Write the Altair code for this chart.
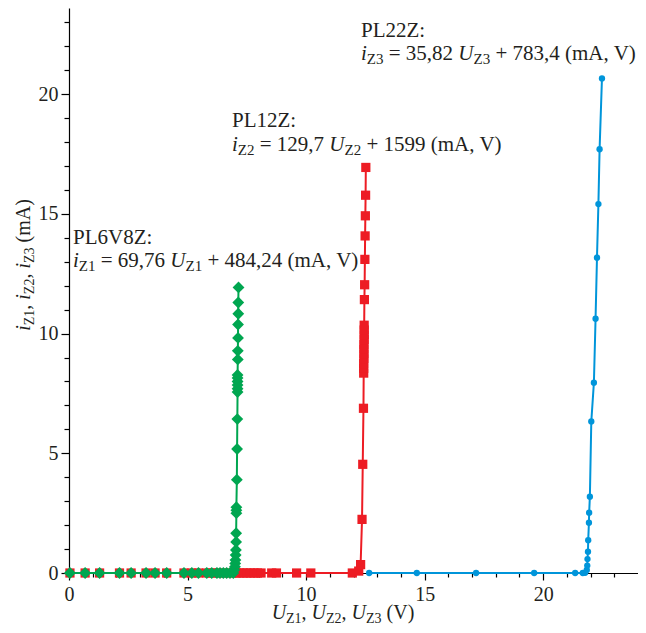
import altair as alt
import pandas as pd

# ---------------- data ----------------
# PL6V8Z  (green diamonds)
z1_u = [0.04, 0.68, 1.29, 2.13, 2.62, 3.25, 3.63, 4.12, 4.85, 5.18, 5.46, 5.81, 6.02, 6.24, 6.37, 6.51, 6.65, 6.79, 6.93,
        6.97, 7.00, 7.01, 7.02, 7.03, 7.04, 7.05, 7.05, 7.06, 7.06, 7.06, 7.08, 7.09, 7.10, 7.11, 7.11, 7.11, 7.11, 7.11,
        7.11, 7.12, 7.12, 7.13, 7.13, 7.14, 7.14, 7.15]
z1_i = [0, 0, 0, 0, 0, 0, 0, 0, 0, 0, 0, 0, 0, 0, 0, 0, 0, 0, 0,
        0.13, 0.26, 0.40, 0.54, 0.75, 0.96, 1.30, 1.66, 2.50, 2.62, 2.75, 3.90, 5.18, 6.43, 7.56, 7.70, 7.85, 8.00, 8.15,
        8.27, 8.92, 9.28, 9.82, 10.38, 10.83, 11.30, 11.93]

# PL12Z  (red squares)
z2_u = [0.04, 0.68, 1.29, 2.13, 2.62, 3.25, 3.63, 4.12, 4.85, 5.18, 5.46, 5.81, 6.02, 6.24, 6.51, 6.79, 7.05, 7.20,
        7.35, 7.50, 7.65, 7.80, 7.95, 8.10, 8.55, 8.75, 9.60, 10.20, 11.95,
        12.22, 12.30, 12.36, 12.39, 12.42, 12.43, 12.43, 12.43, 12.44, 12.44, 12.44, 12.44, 12.45, 12.45, 12.45, 12.45,
        12.46, 12.47, 12.48, 12.49, 12.50, 12.51, 12.52]
z2_i = [0, 0, 0, 0, 0, 0, 0, 0, 0, 0, 0, 0, 0, 0, 0, 0, 0, 0,
        0, 0, 0, 0, 0, 0, 0, 0, 0, 0, 0,
        0.08, 0.35, 2.24, 4.54, 6.88, 8.35, 8.55, 8.75, 8.95, 9.15, 9.35, 9.55, 9.75, 9.95, 10.15, 10.35,
        11.42, 12.04, 13.10, 14.08, 14.92, 15.78, 16.94]

# PL22Z  (blue circles)
z3_u = [12.66, 14.67, 17.17, 19.62, 21.35, 21.67, 21.77, 21.84, 21.86, 21.87, 21.89, 21.90, 21.93, 21.94, 21.97,
        22.03, 22.14, 22.21, 22.27, 22.33, 22.38, 22.48]
z3_i = [0, 0, 0, 0, 0, 0, 0.01, 0.13, 0.31, 0.58, 0.89, 1.37, 2.10, 2.52, 3.19,
        6.33, 7.95, 10.62, 13.17, 15.41, 17.70, 20.66]

x_domain = [0, 24]
y_domain = [0, 23.6]
x_ticks = list(range(0, 24))
y_ticks = list(range(0, 24))

# ---------------- style ----------------
W, H = 569, 565
FONT = "Liberation Serif"
FS = 20
SUBFS = 14
AFS = 21      # annotation font size
ASUBFS = 15
INK = "#231f20"
GREEN = "#00a650"
RED = "#ed1c24"
BLUE = "#0095da"

xscale = alt.Scale(domain=x_domain, nice=False, zero=False)
yscale = alt.Scale(domain=y_domain, nice=False, zero=False)

major5 = "datum.value % 5 === 0"
common_axis = dict(
    title=None, grid=False, labelExpr=f"{major5} ? datum.label : ''",
    labelFont=FONT, labelFontSize=FS, labelColor=INK, labelOverlap=False,
    domainColor="black", tickColor="black", domainWidth=1.2, tickWidth=1.2, labelFlush=False,
)
xaxis = alt.Axis(values=x_ticks, tickSize={"condition": {"test": major5, "value": 7}, "value": 4},
                 labelPadding=4, **common_axis)
yaxis = alt.Axis(values=y_ticks, tickSize={"condition": {"test": major5, "value": 8}, "value": 5},
                 labelPadding=3, **common_axis)


def series(u, i, color, shape, size):
    df = pd.DataFrame({"U": u, "I": i, "k": list(range(len(u)))})
    base = alt.Chart(df).encode(
        x=alt.X("U:Q", scale=xscale, axis=xaxis),
        y=alt.Y("I:Q", scale=yscale, axis=yaxis),
        order=alt.Order("k:Q"),
    )
    return [
        base.mark_line(color=color, strokeWidth=2),
        base.mark_point(shape=shape, size=size, filled=True, color=color, opacity=1),
    ]


# ---------------- rich text (italic + subscripts) ----------------
CW = {' ': 250, ',': 250, ':': 278, '=': 564, '+': 564, '(': 333, ')': 333, 'A': 722, 'L': 611, 'P': 556,
      'V': 722, 'Z': 611, 'm': 778, 'i': 278, 'U': 722}


def tw(s, fs):
    return sum(CW.get(c, 500) for c in s) * fs / 1000.0


one = pd.DataFrame({"n": [0]})


def rich(segs, x0, y0, vertical=False, center=False, fs_main=FS, fs_sub=SUBFS):
    total = sum(tw(s, fs_sub if k == "sub" else fs_main) for s, k in segs)
    if center:
        if vertical:
            y0 = y0 + total / 2
        else:
            x0 = x0 - total / 2
    out = []
    off = 0.0
    for s, k in segs:
        fs = fs_sub if k == "sub" else fs_main
        lead = len(s) - len(s.lstrip(" "))
        o = off + tw(" " * lead, fs)
        shift = 4 if k == "sub" else 0
        if vertical:
            x, y = x0 + shift, y0 - o
        else:
            x, y = x0 + o, y0 + shift
        out.append(
            alt.Chart(one).mark_text(
                text=s.strip(" "), align="left", baseline="alphabetic", font=FONT, fontSize=fs,
                fontStyle="italic" if k == "it" else "normal", color=INK, angle=270 if vertical else 0,
            ).encode(x=alt.value(x), y=alt.value(y))
        )
        off += tw(s, fs)
    return out


def eq(sub, a, b):
    return [("i", "it"), (sub, "sub"), (f" = {a} ", "n"), ("U", "it"), (sub, "sub"), (f" + {b} (mA, V)", "n")]


ann = dict(fs_main=AFS, fs_sub=ASUBFS)
texts = []
texts += rich([("PL6V8Z:", "n")], 4, 236, **ann)
texts += rich(eq("Z1", "69,76", "484,24"), 4, 259, **ann)
texts += rich([("PL12Z:", "n")], 163, 119, **ann)
texts += rich(eq("Z2", "129,7", "1599"), 163, 143, **ann)
texts += rich([("PL22Z:", "n")], 292, 29, **ann)
texts += rich(eq("Z3", "35,82", "783,4"), 292, 52, **ann)

x_title = [("U", "it"), ("Z1", "sub"), (", ", "n"), ("U", "it"), ("Z2", "sub"), (", ", "n"),
           ("U", "it"), ("Z3", "sub"), (" (V)", "n")]
y_title = [("i", "it"), ("Z1", "sub"), (", ", "n"), ("i", "it"), ("Z2", "sub"), (", ", "n"),
           ("i", "it"), ("Z3", "sub"), (" (mA)", "n")]
texts += rich(x_title, 274, 611, center=True)
texts += rich(y_title, -39, 257, vertical=True, center=True)

layers = []
layers += series(z3_u, z3_i, BLUE, "circle", 40)
layers += series(z2_u, z2_i, RED, "square", 85)
layers += series(z1_u, z1_i, GREEN, "diamond", 140)
layers += texts

chart = alt.layer(*layers).properties(
    width=W, height=H,
    autosize=alt.AutoSizeParams(type="none"),
    padding={"left": 61, "top": 0, "right": 0, "bottom": 52},
).configure_view(stroke=None)

chart.save("out.html", embed_options={"renderer": "svg", "actions": False})
